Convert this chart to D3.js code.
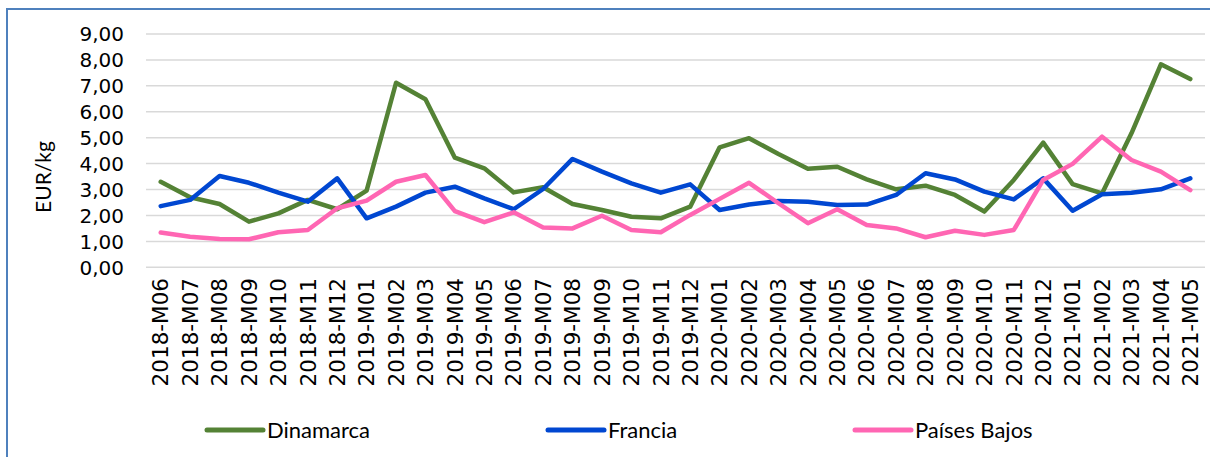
<!DOCTYPE html>
<html><head><meta charset="utf-8">
<script src="https://cdn.jsdelivr.net/npm/d3@7"></script>
<style>body{margin:0;background:#fff}svg{display:block}</style>
</head><body>
<svg id="chart" width="1210" height="457"></svg>
<script>
const categories = ["2018-M06","2018-M07","2018-M08","2018-M09","2018-M10","2018-M11","2018-M12",
"2019-M01","2019-M02","2019-M03","2019-M04","2019-M05","2019-M06","2019-M07","2019-M08","2019-M09","2019-M10","2019-M11","2019-M12",
"2020-M01","2020-M02","2020-M03","2020-M04","2020-M05","2020-M06","2020-M07","2020-M08","2020-M09","2020-M10","2020-M11","2020-M12",
"2021-M01","2021-M02","2021-M03","2021-M04","2021-M05"];
const dinamarca = [3.30,2.70,2.44,1.76,2.08,2.60,2.24,2.96,7.12,6.48,4.23,3.82,2.89,3.09,2.44,2.21,1.95,1.89,2.34,4.63,4.98,4.37,3.80,3.88,3.39,3.01,3.15,2.79,2.15,3.37,4.81,3.21,2.85,5.17,7.83,7.26];
const francia = [2.36,2.60,3.52,3.26,2.88,2.53,3.43,1.89,2.34,2.88,3.11,2.66,2.24,3.02,4.18,3.69,3.24,2.88,3.20,2.21,2.42,2.56,2.53,2.40,2.42,2.79,3.63,3.39,2.92,2.62,3.43,2.18,2.82,2.88,3.01,3.43];
const paisesBajos = [1.34,1.18,1.09,1.08,1.35,1.44,2.28,2.57,3.30,3.56,2.17,1.74,2.12,1.54,1.50,1.99,1.44,1.35,2.02,2.64,3.26,2.47,1.70,2.24,1.63,1.50,1.16,1.41,1.25,1.44,3.37,3.99,5.04,4.14,3.69,2.98];
const seriesNames = ["Dinamarca","Francia","Países Bajos"];
const seriesColors = ["#548235","#0047D1","#FF66B3"];
const yTicks = [0,1,2,3,4,5,6,7,8,9];
const yTitle = "EUR/kg";

const svg = d3.select("#chart");
// outer border
svg.append("rect").attr("x",7).attr("y",9).attr("width",1215).attr("height",460)
  .attr("fill","none").attr("stroke","#4F81BD").attr("stroke-width",2);

const x = d3.scaleBand().domain(categories).range([146,1205]).padding(0);
const y = d3.scaleLinear().domain([0,9]).range([267.3,34]);
const cx = d => x(d) + x.bandwidth()/2;

// gridlines
svg.append("g").selectAll("line").data(yTicks).join("line")
  .attr("x1",146).attr("x2",1205).attr("y1",d=>y(d)).attr("y2",d=>y(d))
  .attr("stroke","#D9D9D9").attr("stroke-width",1.5);

// y tick labels
const fmt = v => v.toFixed(2).replace(".",",");
svg.append("g").selectAll("text").data(yTicks).join("text")
  .attr("x",124).attr("y",d=>y(d)).attr("dy","0.36em")
  .attr("text-anchor","end").attr("font-family","DejaVu Sans").attr("font-size",20)
  .attr("fill","#000").text(fmt);

// x tick labels
svg.append("g").selectAll("text").data(categories).join("text")
  .attr("transform",d=>`translate(${cx(d)},278) rotate(-90)`)
  .attr("dy","0.36em").attr("text-anchor","end")
  .attr("font-family","DejaVu Sans").attr("font-size",21.5).attr("fill","#000").text(d=>d);

// y title
svg.append("text").attr("transform","translate(43,177) rotate(-90)")
  .attr("dy","0.36em").attr("text-anchor","middle")
  .attr("font-family","Lato").attr("font-size",21).attr("fill","#000").text(yTitle);

// lines
const data = [dinamarca, francia, paisesBajos];
const line = d3.line().x((d,i)=>cx(categories[i])).y(d=>y(d));
svg.append("g").selectAll("path").data(data).join("path")
  .attr("d",line).attr("fill","none")
  .attr("stroke",(d,i)=>seriesColors[i]).attr("stroke-width",4.5)
  .attr("stroke-linejoin","round").attr("stroke-linecap","round");

// legend
const legX = [207,548,855];
const lg = svg.append("g").selectAll("g").data(seriesNames).join("g")
  .attr("transform",(d,i)=>`translate(${legX[i]},430)`);
lg.append("line").attr("x1",0).attr("x2",56).attr("y1",0).attr("y2",0)
  .attr("stroke",(d,i)=>seriesColors[i]).attr("stroke-width",5).attr("stroke-linecap","round");
lg.append("text").attr("x",60).attr("dy","0.36em")
  .attr("font-family","Lato").attr("font-size",22).attr("fill","#000").text(d=>d);
</script>
</body></html>
